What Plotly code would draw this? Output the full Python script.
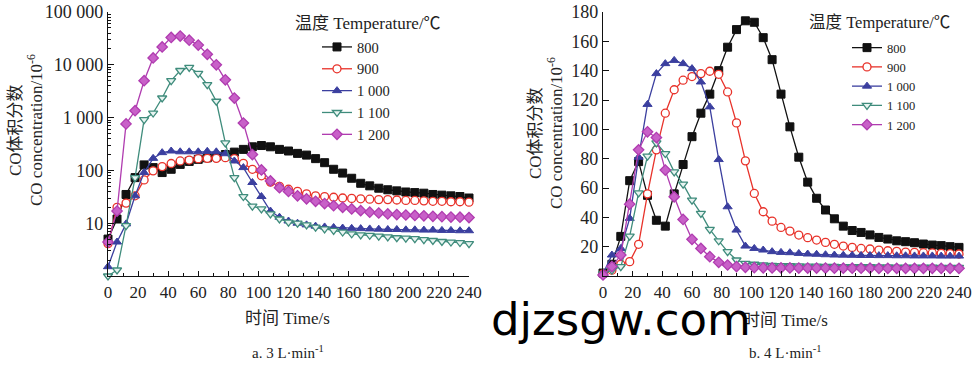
import plotly.graph_objects as go

W, H = 979, 367

time_s = list(range(0, 241, 6))
temps = ["800", "900", "1 000", "1 100", "1 200"]

# ---- a. 3 L/min (log scale) ----
a_800 = [5, 12, 35, 73, 127, 113, 91, 105, 130, 148,
         162, 173, 185, 200, 222, 250, 280, 296, 280, 250,
         233, 210, 195, 167, 140, 105, 89, 71, 57, 51,
         46, 43, 41, 39, 38, 37, 35, 34, 33, 32, 30]
a_900 = [4.1, 20, 24, 33, 66, 98, 118, 135, 151, 157,
         167, 169, 169, 174, 167, 136, 105, 79, 60, 50,
         44, 40, 36, 33, 32, 31, 30, 29.5, 29, 28.5,
         28, 28, 27.5, 27, 27, 26.5, 26, 26, 25.5, 25.5, 25]
a_1000 = [1.5, 4.4, 9.7, 33, 91, 169, 217, 233, 225, 225,
          225, 230, 225, 207, 151, 113, 59, 32, 17, 13,
          11, 10, 9.3, 8.8, 8.5, 8.3, 8.1, 8, 7.9, 7.8,
          7.7, 7.6, 7.6, 7.5, 7.5, 7.4, 7.4, 7.3, 7.3, 7.2, 7.2]
a_1100 = [1, 1.3, 9, 73, 915, 1220, 2350, 5000, 7800, 8900,
          6900, 4200, 2040, 333, 73, 32, 21, 18.6, 15, 12,
          10.5, 10, 9.3, 8.4, 7.8, 7.3, 6.8, 6.3, 6.0, 5.9,
          5.7, 5.5, 5.3, 5.2, 5.1, 4.9, 4.7, 4.5, 4.4, 4.3, 4.1]
a_1200 = [4.4, 17, 760, 1350, 5000, 13500, 21800, 33000, 35000, 29300,
          23600, 15800, 10000, 5200, 2350, 790, 200, 102, 63, 47,
          40, 33, 29, 26, 23.5, 21.5, 20, 18.6, 17.3, 16.2,
          15.6, 15, 14.6, 14.3, 14, 13.8, 13.5, 13.3, 13.1, 13, 12.8]

# ---- b. 4 L/min (linear scale) ----
b_800 = [2, 8, 27, 65, 78, 55, 38, 34, 56, 76,
         95, 111, 124, 140, 156, 168, 174, 173, 162.5, 147.5,
         124, 101.7, 81, 64, 53, 45, 39, 34, 31, 29.7,
         28, 26.3, 25.2, 24, 23.4, 22.7, 21.8, 21.1, 20.7, 20, 19.5]
b_900 = [1.5, 4, 8, 9.8, 21.6, 56, 86, 111, 127, 133.5,
         136, 138, 139.6, 137.5, 125.5, 104.4, 78.5, 56.3, 43.8, 37.4,
         33.1, 30.6, 27.9, 26.1, 24.5, 22.9, 21.6, 20.4, 19.5, 18.8,
         18.4, 17.7, 17.2, 16.8, 16.3, 16.1, 15.9, 15.7, 15.4, 15.2, 15]
b_1000 = [1.5, 14.3, 18.8, 39.3, 81, 117, 138, 144.8, 147, 144.8,
          141.4, 132.3, 115.3, 79.4, 47.2, 31.3, 20.4, 18.8, 17.7, 16.6,
          16.1, 15.9, 15.4, 15, 14.8, 14.5, 14.3, 14.2, 14.1, 14,
          14, 13.9, 13.9, 13.8, 13.8, 13.7, 13.7, 13.7, 13.6, 13.6, 13.6]
b_1100 = [1.4, 4, 6.4, 27.2, 56.7, 81.7, 90.8, 83.5, 71, 62.6,
          51.7, 42.7, 31.8, 24, 16.6, 10.9, 8.6, 8, 7.5, 7.3,
          7.1, 7, 6.9, 6.8, 6.7, 6.6, 6.5, 6.4, 6.4, 6.3,
          6.3, 6.2, 6.2, 6.1, 6.1, 6, 6, 6, 5.9, 5.9, 5.9]
b_1200 = [0.7, 6.4, 14.3, 49, 86, 98.3, 94.4, 72.2, 54, 38.6,
          25, 18.8, 13.2, 9.3, 7.5, 6.4, 5.9, 5.7, 5.6, 5.5,
          5.5, 5.5, 5.4, 5.4, 5.4, 5.4, 5.3, 5.3, 5.3, 5.3,
          5.3, 5.2, 5.2, 5.2, 5.2, 5.2, 5.2, 5.2, 5.2, 5.2, 5.2]

log_ticks = [10, 100, 1000, 10000, 100000]
log_ticktext = ["10", "100", "1 000", "10 000", "100 000"]
x_ticks = list(range(0, 241, 20))
lin_ticks = list(range(20, 181, 20))

colors = ["#111111", "#e8322a", "#3b3f9f", "#3f8c7c", "#b03cb0"]
styles = [
    dict(symbol="square", color=colors[0], line=dict(color=colors[0], width=1)),
    dict(symbol="circle", color="white", line=dict(color=colors[1], width=1.3)),
    dict(symbol="triangle-up", color=colors[2], line=dict(color=colors[2], width=1)),
    dict(symbol="triangle-down", color="#e8f4f1", line=dict(color=colors[3], width=1.3)),
    dict(symbol="diamond", color="#c860c8", line=dict(color=colors[4], width=1.3)),
]

SERIF = "Liberation Serif, Times New Roman, serif"
SERIF_CJK = "Liberation Serif, Noto Sans CJK SC, serif"

fig = go.Figure()
for i, (ya, yb) in enumerate(zip([a_800, a_900, a_1000, a_1100, a_1200],
                                 [b_800, b_900, b_1000, b_1100, b_1200])):
    st = styles[i]
    mk = dict(symbol=st["symbol"], size=8, color=st["color"], line=st["line"])
    fig.add_trace(go.Scatter(x=time_s, y=ya, mode="lines+markers", name=temps[i],
                             line=dict(color=colors[i], width=1.3), marker=mk,
                             xaxis="x", yaxis="y", legend="legend", cliponaxis=False))
    fig.add_trace(go.Scatter(x=time_s, y=yb, mode="lines+markers", name=temps[i],
                             line=dict(color=colors[i], width=1.3), marker=mk,
                             xaxis="x2", yaxis="y2", legend="legend2", cliponaxis=False))

def px_x(p):
    return p / W

def px_y(p):
    return 1 - p / H

axis_common = dict(showline=True, linecolor="#111", linewidth=1.4, showgrid=False,
                   zeroline=False, ticks="inside", tickcolor="#111", tickwidth=1.2,
                   automargin=False)
xfont = dict(family=SERIF, size=17, color="#222")
yfont = dict(family=SERIF, size=18, color="#222")

fig.update_layout(
    template="none",
    width=W, height=H, margin=dict(l=0, r=0, t=0, b=0, pad=0),
    paper_bgcolor="white", plot_bgcolor="white",
    xaxis=dict(domain=[px_x(108), px_x(469)], range=[0, 240], tickvals=x_ticks, ticklen=5,
               minor=dict(ticks="inside", ticklen=3, dtick=10, tickcolor="#111"),
               anchor="y", tickfont=xfont, **axis_common),
    yaxis=dict(domain=[px_y(276), px_y(12)], type="log", range=[0, 5], tickvals=log_ticks,
               ticktext=log_ticktext, ticklen=6,
               minor=dict(ticks="inside", ticklen=3, tickcolor="#111",
                          tickvals=[m * 10 ** d for d in range(5) for m in range(2, 10)]),
               anchor="x", tickfont=yfont, **axis_common),
    xaxis2=dict(domain=[px_x(603), px_x(959)], range=[0, 240], tickvals=x_ticks, ticklen=5,
                minor=dict(ticks="inside", ticklen=3, dtick=10, tickcolor="#111"),
                anchor="y2", tickfont=xfont, **axis_common),
    yaxis2=dict(domain=[px_y(276), px_y(12)], range=[0, 180], tickvals=lin_ticks, ticklen=6,
                anchor="x2", tickfont=yfont, **axis_common),
    legend=dict(x=px_x(317), y=px_y(31), xanchor="left", yanchor="top",
                bgcolor="rgba(0,0,0,0)", font=dict(family=SERIF, size=14.5, color="#222"),
                tracegroupgap=0, borderwidth=0),
    legend2=dict(x=px_x(847), y=px_y(33), xanchor="left", yanchor="top",
                 bgcolor="rgba(0,0,0,0)", font=dict(family=SERIF, size=12.5, color="#222"),
                 tracegroupgap=0, borderwidth=0),
    showlegend=True,
)

def ann(text, x, y, size, angle=0, xanchor="center", family=SERIF_CJK, color="#222"):
    fig.add_annotation(text=text, x=px_x(x), y=px_y(y), xref="paper", yref="paper",
                       showarrow=False, xanchor=xanchor, yanchor="middle", textangle=angle,
                       font=dict(family=family, size=size, color=color))

ann("温度 Temperature/℃", 293, 23, 17, xanchor="left")
ann("温度 Temperature/℃", 807, 22, 16.5, xanchor="left")
ann("CO体积分数", 15, 130, 17, angle=-90)
ann("CO concentration/10<sup>-6</sup>", 35, 130, 17, angle=-90)
ann("CO体积分数", 535, 133, 17, angle=-90)
ann("CO concentration/10<sup>-6</sup>", 555, 133, 17, angle=-90)
ann("时间 Time/s", 287, 318, 17)
ann("时间 Time/s", 785, 320, 17)
ann("a. 3 L·min<sup>-1</sup>", 288, 352, 15)
ann("b. 4 L·min<sup>-1</sup>", 785, 352, 15)
ann("djzsgw.com", 489, 319, 45, xanchor="left", family="DejaVu Sans", color="#000")

fig.write_html("out.html", config={"displayModeBar": False},
               post_script="document.body.style.margin='0';document.body.style.overflow='hidden';")
